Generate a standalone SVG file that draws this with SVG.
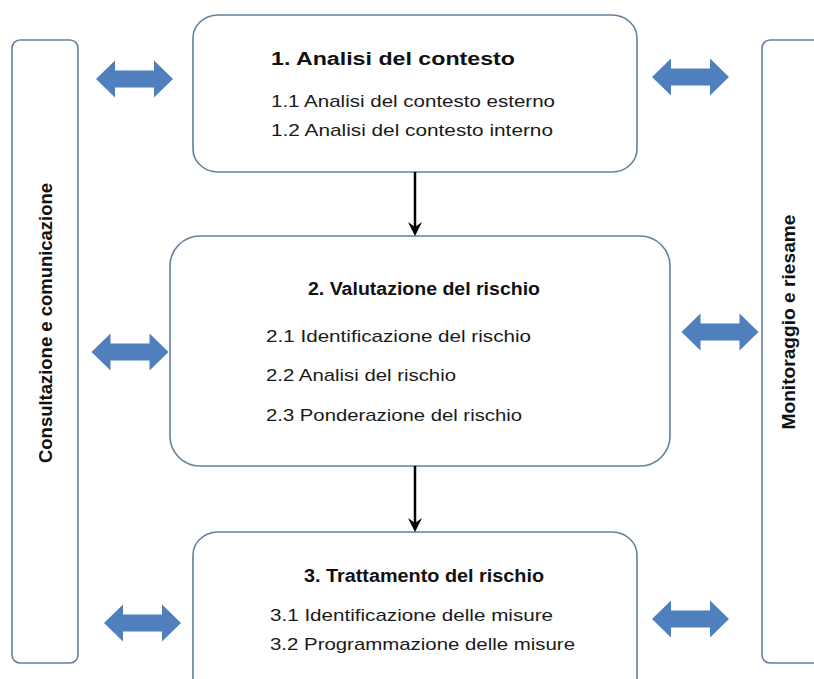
<svg xmlns="http://www.w3.org/2000/svg" width="814" height="679" viewBox="0 0 814 679">
<defs>
<style>
.box{fill:#ffffff;stroke:#62809f;stroke-width:1.6}
.bar{fill:#ffffff;stroke:#62809f;stroke-width:1.6}
.t{font-family:"Liberation Sans",Arial,sans-serif;font-size:17px;fill:#1a1a1a}
.tb{font-family:"Liberation Sans",Arial,sans-serif;font-size:17.5px;font-weight:bold;fill:#111111;text-anchor:middle}
.vt{font-family:"Liberation Sans",Arial,sans-serif;font-size:18px;font-weight:bold;fill:#111111;text-anchor:middle}
.dbl{fill:#4f7fbd}
.flow{stroke:#000000;stroke-width:2.5;fill:none}
.ah{fill:#000000}
</style>
<path id="dblarrow" class="dbl" d="M-38.5,0 L-19.5,-18.5 L-19.5,-8.5 L19.5,-8.5 L19.5,-18.5 L38.5,0 L19.5,18.5 L19.5,8.5 L-19.5,8.5 L-19.5,18.5 Z"/>
<path id="downhead" class="ah" d="M-7,-14 L0,0 L7,-14 L0,-9 Z"/>
</defs>
<rect width="814" height="679" fill="#ffffff"/>

<g id="consultazione">
<rect class="bar" x="12" y="40" width="66" height="623" rx="8" ry="8"/>
<text class="vt" transform="translate(52,323) rotate(-90)" textLength="280" lengthAdjust="spacingAndGlyphs">Consultazione e comunicazione</text>
</g>

<g id="monitoraggio">
<rect class="bar" x="762" y="40" width="80" height="623" rx="8" ry="8"/>
<text class="vt" transform="translate(795,322) rotate(-90)" textLength="215" lengthAdjust="spacingAndGlyphs">Monitoraggio e riesame</text>
</g>

<g id="analisi-contesto">
<rect class="box" x="193" y="15" width="444" height="157" rx="25" ry="23"/>
<text class="tb" x="393" y="65" textLength="244" lengthAdjust="spacingAndGlyphs">1. Analisi del contesto</text>
<text class="t" x="271" y="107" textLength="284" lengthAdjust="spacingAndGlyphs">1.1 Analisi del contesto esterno</text>
<text class="t" x="271" y="136" textLength="282" lengthAdjust="spacingAndGlyphs">1.2 Analisi del contesto interno</text>
</g>

<g id="valutazione-rischio">
<rect class="box" x="170" y="236" width="500" height="230" rx="30" ry="30"/>
<text class="tb" x="424" y="295" textLength="232" lengthAdjust="spacingAndGlyphs">2. Valutazione del rischio</text>
<text class="t" x="266" y="342" textLength="265" lengthAdjust="spacingAndGlyphs">2.1 Identificazione del rischio</text>
<text class="t" x="266" y="381" textLength="190" lengthAdjust="spacingAndGlyphs">2.2 Analisi del rischio</text>
<text class="t" x="266" y="421" textLength="256" lengthAdjust="spacingAndGlyphs">2.3 Ponderazione del rischio</text>
</g>

<g id="trattamento-rischio">
<rect class="box" x="193" y="532" width="444" height="190" rx="25" ry="23"/>
<text class="tb" x="424" y="582" textLength="240" lengthAdjust="spacingAndGlyphs">3. Trattamento del rischio</text>
<text class="t" x="270" y="621" textLength="283" lengthAdjust="spacingAndGlyphs">3.1 Identificazione delle misure</text>
<text class="t" x="270" y="650" textLength="305" lengthAdjust="spacingAndGlyphs">3.2 Programmazione delle misure</text>
</g>

<g id="connectors">
<line class="flow" x1="415" y1="172" x2="415" y2="228"/>
<use href="#downhead" transform="translate(415,236)"/>
<line class="flow" x1="415" y1="466" x2="415" y2="524"/>
<use href="#downhead" transform="translate(415,532)"/>
<use href="#dblarrow" transform="translate(134.5,79)"/>
<use href="#dblarrow" transform="translate(690.5,77)"/>
<use href="#dblarrow" transform="translate(130,352)"/>
<use href="#dblarrow" transform="translate(720,332)"/>
<use href="#dblarrow" transform="translate(142.5,623)"/>
<use href="#dblarrow" transform="translate(690.5,619)"/>
</g>
</svg>
